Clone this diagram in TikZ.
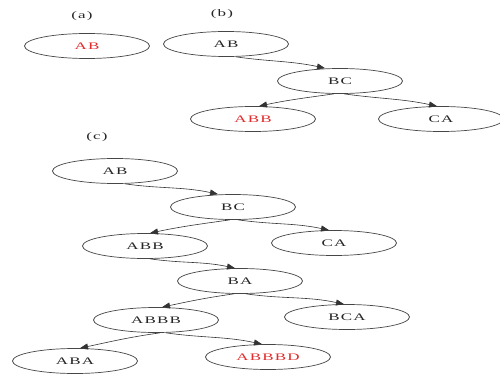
\documentclass[tikz,border=0pt]{standalone}
\usepackage{fontspec}
\setmainfont{Liberation Serif}
\newfontfamily\treefont[FakeStretch=1.7,LetterSpace=12]{Liberation Serif}
\usetikzlibrary{shapes.geometric,arrows.meta}
\definecolor{hot}{RGB}{225,45,45}
\definecolor{rim}{RGB}{70,70,70}
\tikzset{
  state/.style={ellipse, draw=rim, line width=0.7pt, minimum width=125pt,
    minimum height=25pt, inner sep=0pt, text=black!85,
    font=\treefont\fontsize{10}{12}\selectfont},
  goal/.style={state, text=hot},
  caption/.style={text=black!85, font=\treefont\fontsize{10}{12}\selectfont},
  edge/.style={draw=black!80, line width=0.6pt,
    -{Triangle[length=8pt,width=6pt]}},
}
\begin{document}
\begin{tikzpicture}[x=1pt,y=1pt]
\useasboundingbox (0,0) rectangle (500,-377);

% (a) a single state
\node[caption] (la) at (82,-16) {(a)};
\node[goal] (a1) at (87,-46) {AB};

% (b) one expansion step
\node[caption] (lb) at (222,-14) {(b)};
\node[state] (b1) at (226,-44) {AB};
\node[state] (b2) at (340,-81) {BC};
\node[goal]  (b3) at (253,-119) {ABB};
\node[state] (b4) at (441,-119) {CA};
\draw[edge] ([xshift=10pt]b1.south) to[out=-8,in=168] ([xshift=-15pt]b2.north);
\draw[edge] ([xshift=-6pt]b2.south) to[out=-172,in=12] ([xshift=6pt]b3.north);
\draw[edge] ([xshift=4pt]b2.south) to[out=-8,in=168] ([xshift=-4pt]b4.north);

% (c) the full search tree
\node[caption] (lc) at (97,-137) {(c)};
\node[state] (c1) at (115,-171) {AB};
\node[state] (c2) at (233,-207) {BC};
\node[state] (c3) at (145,-246) {ABB};
\node[state] (c4) at (334,-243) {CA};
\node[state] (c5) at (240,-281) {BA};
\node[state] (c6) at (156,-320) {ABBB};
\node[state] (c7) at (347,-317) {BCA};
\node[state] (c8) at (75,-361) {ABA};
\node[goal]  (c9) at (268,-357) {ABBBD};
\draw[edge] ([xshift=10pt]c1.south) to[out=-8,in=168] ([xshift=-15pt]c2.north);
\draw[edge] ([xshift=-3pt]c2.south) to[out=-172,in=12] ([xshift=5pt]c3.north);
\draw[edge] ([xshift=5pt]c2.south) to[out=-8,in=168] ([xshift=-5pt]c4.north);
\draw[edge] ([xshift=5pt]c3.south) to[out=-8,in=168] ([xshift=-5pt]c5.north);
\draw[edge] ([xshift=-6pt]c5.south) to[out=-172,in=12] ([xshift=6pt]c6.north);
\draw[edge] ([xshift=6pt]c5.south) to[out=-8,in=168] ([xshift=-3pt]c7.north);
\draw[edge] ([xshift=4pt]c6.south) to[out=-172,in=12] ([xshift=5pt]c8.north);
\draw[edge] ([xshift=10pt]c6.south) to[out=-8,in=168] ([xshift=-6pt]c9.north);
\end{tikzpicture}
\end{document}
